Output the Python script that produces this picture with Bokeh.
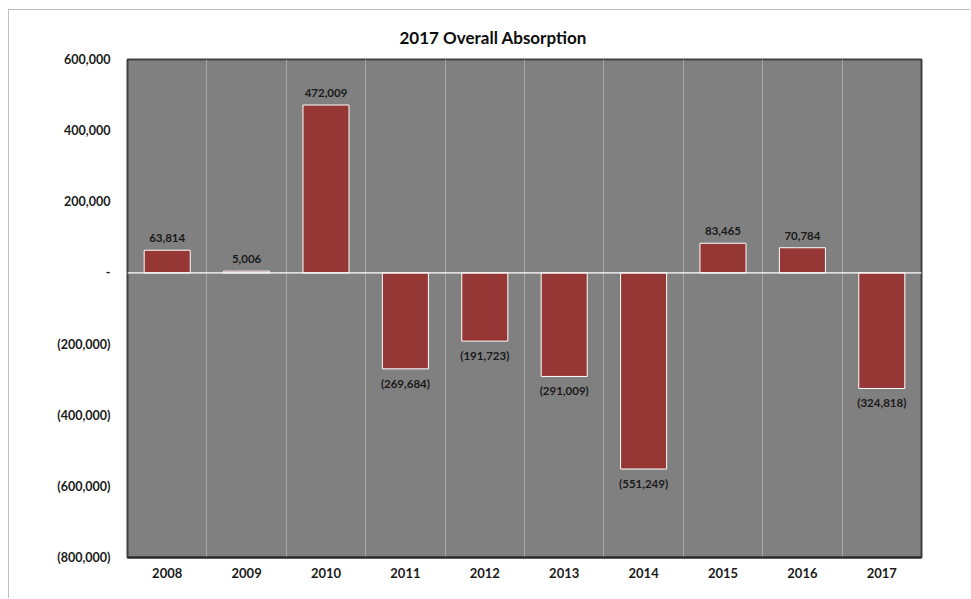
from bokeh.plotting import figure
from bokeh.models import (ColumnDataSource, FixedTicker, CustomJSTickFormatter, Span, LabelSet, Range1d)
from bokeh.core.properties import value
from bokeh.embed import file_html
from bokeh.resources import INLINE

years = ["2008", "2009", "2010", "2011", "2012", "2013", "2014", "2015", "2016", "2017"]
absorption = [63814, 5006, 472009, -269684, -191723, -291009, -551249, 83465, 70784, -324818]
y_ticks = [600000, 400000, 200000, 0, -200000, -400000, -600000, -800000]
title_text = "2017 Overall Absorption"

def fmt(v):
    s = "{:,}".format(abs(v))
    return "(" + s + ")" if v < 0 else s

xs = [i + 0.5 for i in range(len(years))]
src = ColumnDataSource(dict(
    x=xs, top=absorption, bottom=[0] * len(years),
    label=[fmt(v) for v in absorption],
    ly=absorption,
    off=[8 if v >= 0 else -8 for v in absorption],
    base=["bottom" if v >= 0 else "top" for v in absorption],
))

p = figure(width=962, height=589, output_backend="svg", toolbar_location=None,
           x_range=Range1d(0, len(years)), y_range=Range1d(min(y_ticks), max(y_ticks)),
           min_border_left=118, min_border_right=50, min_border_top=49, min_border_bottom=42)

p.background_fill_color = "#808080"
p.border_fill_color = "white"
p.outline_line_color = "#404040"
p.outline_line_width = 2

p.vbar(x="x", top="top", bottom="bottom", width=0.58, source=src,
       fill_color="#953735", line_color="white", line_width=1)

p.add_layout(Span(location=0, dimension="width", line_color="white", line_width=1.2))

lbl = LabelSet(x="x", y="ly", text="label", source=src, y_offset="off",
               text_align="center", text_baseline="base",
               text_font=value("Lato"), text_font_style="bold", text_font_size="11.5px",
               text_color="#1a1a1a")
p.add_layout(lbl)

# x axis
p.xaxis.ticker = FixedTicker(ticks=xs)
p.xaxis.major_label_overrides = {x: y for x, y in zip(xs, years)}
p.xaxis.major_tick_line_color = None
p.xaxis.minor_tick_line_color = None
p.xaxis.axis_line_color = "#262626"
p.xaxis.axis_line_width = 2
p.xaxis.major_label_text_font = "Lato"
p.xaxis.major_label_text_font_style = "bold"
p.xaxis.major_label_text_font_size = "13px"
p.xaxis.major_label_text_color = "#1a1a1a"
p.xaxis.major_label_standoff = 4

p.xgrid.ticker = FixedTicker(ticks=list(range(1, len(years))))
p.xgrid.grid_line_color = "#a6a6a6"
p.xgrid.grid_line_width = 1

# y axis
p.yaxis.ticker = FixedTicker(ticks=y_ticks)
p.yaxis.formatter = CustomJSTickFormatter(code="""
    if (tick == 0) return '-';
    const s = Math.abs(tick).toLocaleString('en-US');
    return tick < 0 ? '(' + s + ')' : s;
""")
p.yaxis.major_tick_line_color = None
p.yaxis.minor_tick_line_color = None
p.yaxis.axis_line_color = None
p.yaxis.major_label_text_font = "Lato"
p.yaxis.major_label_text_font_style = "bold"
p.yaxis.major_label_text_font_size = "12.5px"
p.yaxis.major_label_text_color = "#1a1a1a"
p.yaxis.major_label_standoff = 11
p.ygrid.grid_line_color = None

p.title.text = title_text
p.title.align = "left"
p.title.offset = 272
p.title.vertical_align = "top"
p.title.text_font = "Lato"
p.title.text_font_style = "bold"
p.title.text_font_size = "17px"
p.title.text_color = "#0d0d0d"
p.title.standoff = 20

p.styles = {"border-left": "1px solid #bfbfbf", "border-top": "1px solid #bfbfbf",
            "margin-left": "8px", "margin-top": "9px"}

open("out.html", "w").write(file_html(p, INLINE))
